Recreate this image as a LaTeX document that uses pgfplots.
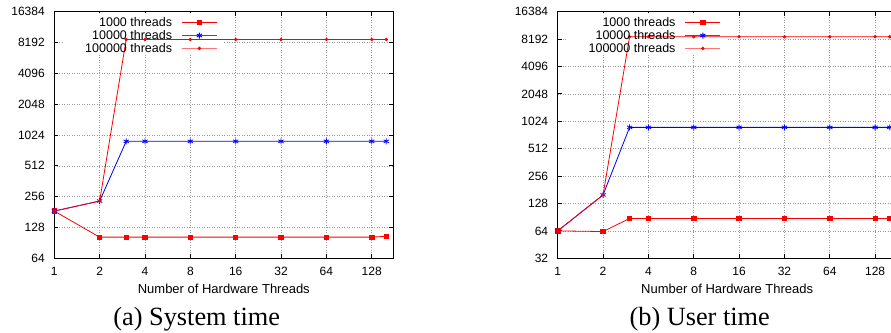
\documentclass[border=0pt]{standalone}
\usepackage{fontspec}
\setmainfont{Liberation Sans}
\newfontfamily\capfont{Liberation Serif}
\usepackage{pgfplots}
\pgfplotsset{compat=1.18}
\begin{document}
\begin{tikzpicture}
\path[use as bounding box] (0pt,0pt) rectangle (891pt,332pt);
\begin{scope}
\clip (0pt,0pt) rectangle (891pt,332pt);
\begin{axis}[at={(54.3pt,73.7pt)}, anchor=south west,
  scale only axis, width=339pt, height=246.6pt,
  xmode=log, ymode=log, log basis x=2, log basis y=2,
  xmin=1, xmax=178,
  xtick={1,2,4,8,16,32,64,128}, xticklabels={1,2,4,8,16,32,64,128},
  grid=major, grid style={dash pattern=on 1pt off 1.5pt, gray!80, line width=0.6pt},
  tick align=inside, major tick length=4pt, minor tick num=0,
  tick style={black, line width=0.8pt},
  axis line style={line width=1pt},
  tick label style={font=\fontsize{12}{14}\selectfont},
  yticklabel style={xshift=-6pt},
  xticklabel style={yshift=-5pt},
  xlabel={Number of Hardware Threads},
  xlabel style={font=\fontsize{13}{15}\selectfont, at={(axis description cs:0.5,0)}, anchor=north, yshift=-22pt},
  legend plot pos=right, legend cell align=right,
  legend style={draw=none, fill=none, inner sep=0pt, outer sep=0pt, font=\fontsize{12.5}{14}\selectfont, at={(0.482,0.985)}, anchor=north east, nodes={inner sep=2pt}, row sep=-1.7pt, column sep=7pt},
  ymin=64, ymax=16384,
  ytick={64,128,256,512,1024,2048,4096,8192,16384},
  yticklabels={64,128,256,512,1024,2048,4096,8192,16384}]
\fill[white] (axis description cs:0.026,0.828) rectangle (axis description cs:0.50,0.996);
\addplot[color=red, line width=0.8pt, mark=square*, mark size=2.2pt,
  legend image code/.code={\draw[red, line width=1pt] (0pt,0pt) -- (35pt,0pt); \draw[red, mark=square*, mark size=2.2pt] plot[only marks] coordinates {(17.5pt,0pt)};}]
  coordinates {(1,185) (2,103) (3,103) (4,103) (8,103) (16,103) (32,103) (64,103) (128,103) (160,105)};
\addlegendentry{1000 threads}
\addplot[color=blue, line width=0.8pt, mark=asterisk, mark size=3pt,
  legend image code/.code={\draw[blue!75, line width=1.6pt] (0pt,0pt) -- (35pt,0pt); \draw[blue, line width=0.9pt, mark=asterisk, mark size=3pt] plot[only marks] coordinates {(17.5pt,0pt)};}]
  coordinates {(1,185) (2,232) (3,888) (4,888) (8,888) (16,888) (32,888) (64,888) (128,888) (160,888)};
\addlegendentry{10000 threads}
\addplot[color=red, line width=0.8pt, mark=*, mark size=1.3pt,
  legend image code/.code={\draw[red!55, line width=1.6pt] (0pt,0pt) -- (35pt,0pt); \draw[red, mark=*, mark size=1.3pt] plot[only marks] coordinates {(17.5pt,0pt)};}]
  coordinates {(1,185) (2,232) (3,8770) (4,8770) (8,8770) (16,8770) (32,8770) (64,8770) (128,8770) (160,8770)};
\addlegendentry{100000 threads}
\end{axis}
\begin{axis}[at={(557.7pt,73.7pt)}, anchor=south west,
  scale only axis, width=339pt, height=246.6pt,
  xmode=log, ymode=log, log basis x=2, log basis y=2,
  xmin=1, xmax=178,
  xtick={1,2,4,8,16,32,64,128}, xticklabels={1,2,4,8,16,32,64,128},
  grid=major, grid style={dash pattern=on 1pt off 1.5pt, gray!80, line width=0.6pt},
  tick align=inside, major tick length=4pt, minor tick num=0,
  tick style={black, line width=0.8pt},
  axis line style={line width=1pt},
  tick label style={font=\fontsize{12}{14}\selectfont},
  yticklabel style={xshift=-6pt},
  xticklabel style={yshift=-5pt},
  xlabel={Number of Hardware Threads},
  xlabel style={font=\fontsize{13}{15}\selectfont, at={(axis description cs:0.5,0)}, anchor=north, yshift=-22pt},
  legend plot pos=right, legend cell align=right,
  legend style={draw=none, fill=none, inner sep=0pt, outer sep=0pt, font=\fontsize{12.5}{14}\selectfont, at={(0.482,0.985)}, anchor=north east, nodes={inner sep=2pt}, row sep=-1.7pt, column sep=7pt},
  ymin=32, ymax=16384,
  ytick={32,64,128,256,512,1024,2048,4096,8192,16384},
  yticklabels={32,64,128,256,512,1024,2048,4096,8192,16384}]
\fill[white] (axis description cs:0.026,0.828) rectangle (axis description cs:0.50,0.996);
\addplot[color=red, line width=0.8pt, mark=square*, mark size=2.2pt,
  legend image code/.code={\draw[red, line width=1pt] (0pt,0pt) -- (35pt,0pt); \draw[red, mark=square*, mark size=2.2pt] plot[only marks] coordinates {(17.5pt,0pt)};}]
  coordinates {(1,64) (2,63) (3,87.6) (4,87.6) (8,87.6) (16,87.6) (32,87.6) (64,87.6) (128,87.6) (160,87.6)};
\addlegendentry{1000 threads}
\addplot[color=blue, line width=0.8pt, mark=asterisk, mark size=3pt,
  legend image code/.code={\draw[blue!75, line width=1.6pt] (0pt,0pt) -- (35pt,0pt); \draw[blue, line width=0.9pt, mark=asterisk, mark size=3pt] plot[only marks] coordinates {(17.5pt,0pt)};}]
  coordinates {(1,64) (2,159) (3,878) (4,878) (8,878) (16,878) (32,878) (64,878) (128,878) (160,878)};
\addlegendentry{10000 threads}
\addplot[color=red, line width=0.8pt, mark=*, mark size=1.3pt,
  legend image code/.code={\draw[red!55, line width=1.6pt] (0pt,0pt) -- (35pt,0pt); \draw[red, mark=*, mark size=1.3pt] plot[only marks] coordinates {(17.5pt,0pt)};}]
  coordinates {(1,64) (2,159) (3,8700) (4,8700) (8,8700) (16,8700) (32,8700) (64,8700) (128,8700) (160,8700)};
\addlegendentry{100000 threads}
\end{axis}
\end{scope}
\node[font=\capfont\fontsize{26.3}{30}\selectfont, anchor=base] at (196.7pt,6.5pt) {(a) System time};
\node[font=\capfont\fontsize{26.3}{30}\selectfont, anchor=base] at (699.7pt,6.5pt) {(b) User time};
\end{tikzpicture}
\end{document}
